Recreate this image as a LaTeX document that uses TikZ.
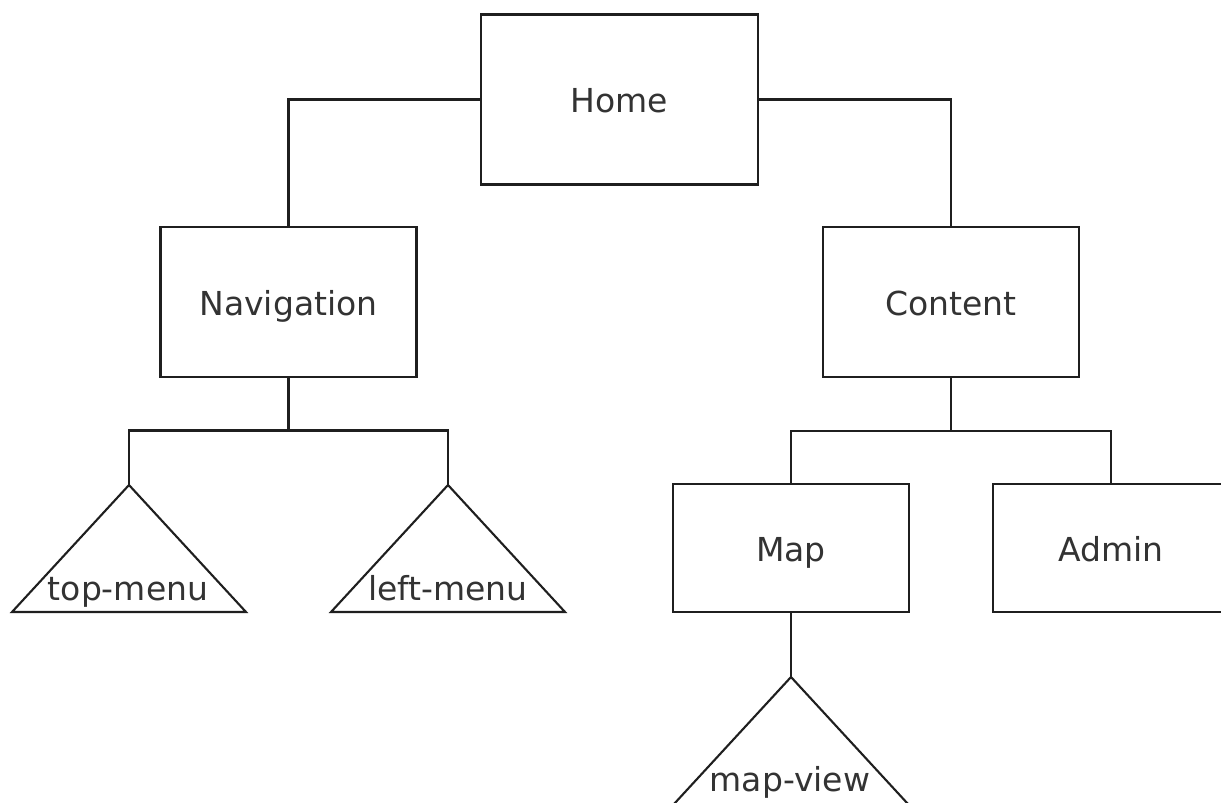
\documentclass[tikz,border=0pt]{standalone}
\usepackage{fontspec}
\setmainfont{DejaVu Sans}
\begin{document}
\begin{tikzpicture}[x=1pt,y=-1pt,
  line width=2.1pt, color=black!88,
  every node/.style={font=\fontsize{33}{40}\selectfont, text=black!80},
  box/.style={draw, rectangle, inner sep=0pt, text height=26pt, text depth=0pt},
  bigbox/.style={box, minimum width=277pt, minimum height=170pt},
  midbox/.style={box, minimum width=256pt, minimum height=150pt},
  smallbox/.style={box, minimum width=236pt, minimum height=128pt},
  tri/.style={line join=miter},
  trilabel/.style={anchor=base, inner sep=0pt}]
\clip (0,0) rectangle (1221,803);
\fill[white] (0,0) rectangle (1221,803);
% boxes
\node[bigbox] (home) at (619.5,99.5) {Home};
\node[midbox] (nav) at (288.5,302) {Navigation};
\node[midbox] (content) at (951,302) {Content};
\node[smallbox] (map) at (791,548) {Map};
\node[smallbox] (admin) at (1111,548) {Admin};
% triangles
\coordinate (tmtop) at (129,485);
\coordinate (lmtop) at (448,485);
\coordinate (mvtop) at (791,677);
\draw[tri] (tmtop) -- ++(-117,127) -- ++(234,0) -- cycle;
\draw[tri] (lmtop) -- ++(-117,127) -- ++(234,0) -- cycle;
\draw[tri] (mvtop) -- ++(-121.6,132) -- ++(243.2,0) -- cycle;
\node[trilabel] (tmtext) at (128,600) {top-menu};
\node[trilabel] (lmtext) at (448,600) {left-menu};
\node[trilabel] (mvtext) at (790,791) {map-view};
% connectors
\draw (home.west) -| (nav.north);
\draw (home.east) -| (content.north);
\coordinate (navbar) at (288.5,430.5);
\draw (nav.south) -- (navbar);
\draw (tmtop) |- (navbar) -| (lmtop);
\coordinate (conbar) at (951,431);
\draw (content.south) -- (conbar);
\draw (map.north) |- (conbar) -| (admin.north);
\draw (map.south) -- (mvtop);
\end{tikzpicture}
\end{document}
